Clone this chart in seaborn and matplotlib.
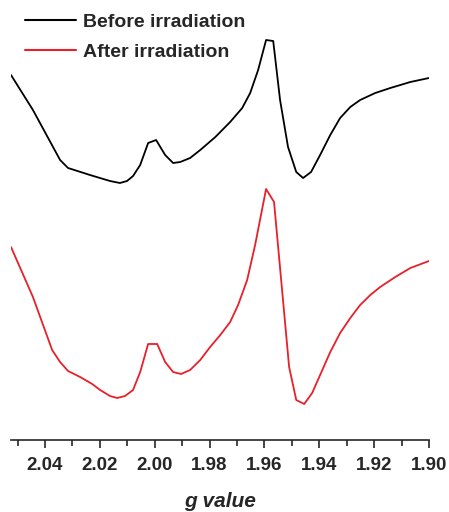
import numpy as np
import pandas as pd
import matplotlib
matplotlib.use("Agg")
import matplotlib.pyplot as plt
import seaborn as sns
from matplotlib.ticker import MultipleLocator

# g values, intensity in arbitrary units (offset stacked)
g_before = [2.0524, 2.0444, 2.0345, 2.0316, 2.0236, 2.0163, 2.0127, 2.0101, 2.0079,
            2.0053, 2.0024, 1.9995, 1.9962, 1.9933, 1.9907, 1.9871, 1.9834, 1.9779,
            1.9725, 1.9681, 1.9652, 1.9623, 1.9594, 1.9568, 1.9543, 1.9514, 1.9484,
            1.9459, 1.9430, 1.9397, 1.9360, 1.9324, 1.9287, 1.9251, 1.9196, 1.9141,
            1.9068, 1.9000]
y_before = [3.65, 3.30, 2.80, 2.72, 2.65, 2.59, 2.57, 2.59, 2.64, 2.75, 2.97, 3.00,
            2.85, 2.77, 2.78, 2.82, 2.90, 3.03, 3.18, 3.32, 3.47, 3.70, 4.00, 3.99,
            3.40, 2.93, 2.68, 2.62, 2.68, 2.85, 3.05, 3.22, 3.33, 3.40, 3.47, 3.52,
            3.58, 3.62]

g_after = [2.0524, 2.0444, 2.0374, 2.0345, 2.0316, 2.0272, 2.0228, 2.0199, 2.0163,
           2.0137, 2.0108, 2.0079, 2.0053, 2.0024, 1.9991, 1.9962, 1.9933, 1.9904,
           1.9871, 1.9834, 1.9798, 1.9761, 1.9725, 1.9696, 1.9663, 1.9634, 1.9594,
           1.9565, 1.9510, 1.9484, 1.9455, 1.9426, 1.9397, 1.9360, 1.9324, 1.9287,
           1.9251, 1.9214, 1.9178, 1.9123, 1.9068, 1.9000]
y_after = [1.93, 1.43, 0.90, 0.78, 0.69, 0.63, 0.56, 0.50, 0.44, 0.42, 0.44, 0.50,
           0.68, 0.96, 0.96, 0.78, 0.68, 0.66, 0.70, 0.80, 0.93, 1.05, 1.18, 1.35,
           1.60, 1.95, 2.51, 2.38, 0.73, 0.40, 0.36, 0.47, 0.65, 0.88, 1.07, 1.22,
           1.35, 1.45, 1.53, 1.63, 1.72, 1.79]

df = pd.concat([
    pd.DataFrame({"g": g_before, "I": y_before, "state": "Before irradiation"}),
    pd.DataFrame({"g": g_after, "I": y_after, "state": "After irradiation"}),
])

sns.set_theme(style="ticks")
plt.rcParams["font.family"] = ["Liberation Sans", "DejaVu Sans"]

fig = plt.figure(figsize=(4.49, 5.12), dpi=100)
ax = fig.add_axes([11 / 449, 1 - 440 / 512, 418 / 449, 440 / 512])

sns.lineplot(data=df, x="g", y="I", hue="state", sort=False,
             palette={"Before irradiation": "black", "After irradiation": "#e8202a"},
             linewidth=1.3, ax=ax, estimator=None)

ax.set_xlim(2.0524, 1.90)
ax.set_ylim(0, 4.40)
ax.xaxis.set_major_locator(MultipleLocator(0.02))
ax.xaxis.set_minor_locator(MultipleLocator(0.01))
ax.xaxis.set_major_formatter(matplotlib.ticker.FormatStrFormatter("%.2f"))
ax.tick_params(axis="x", which="major", length=6, width=1.2, labelsize=13.5, pad=6)
ax.tick_params(axis="x", which="minor", length=4, width=1.2)
for lab in ax.get_xticklabels():
    lab.set_fontweight("bold")
ax.set_yticks([])
ax.set_ylabel("")
for s in ["top", "left", "right"]:
    ax.spines[s].set_visible(False)
ax.spines["bottom"].set_linewidth(1.2)
ax.set_xlabel("g value", fontsize=15, fontweight="bold", fontstyle="italic", labelpad=13)

leg = ax.legend(loc="upper left", bbox_to_anchor=(25 / 449, 1 - 13 / 512),
                bbox_transform=fig.transFigure, frameon=False,
                borderaxespad=0, borderpad=0,
                handlelength=2.6, labelspacing=0.66, handletextpad=0.4,
                prop={"size": 14, "weight": "bold"})
for line in leg.get_lines():
    line.set_linewidth(1.5)

fig.savefig("out.png", dpi=100)
